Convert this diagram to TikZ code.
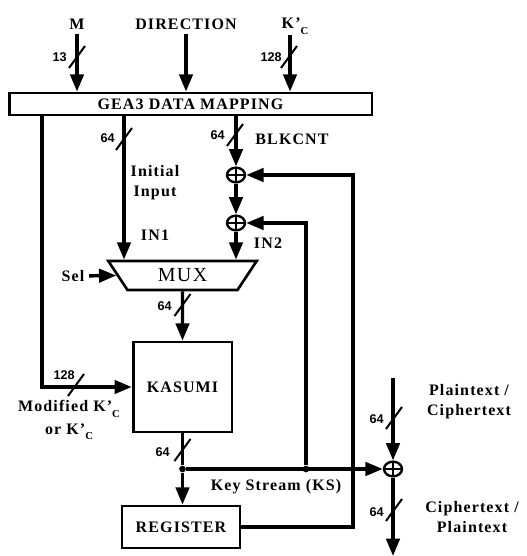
\documentclass[tikz,border=0pt]{standalone}
\usepackage{fontspec}
\setmainfont{Liberation Serif}[LetterSpace=7]
\newfontfamily\numfont{Liberation Sans}
\usetikzlibrary{shapes.geometric,arrows.meta,calc}

\newcommand{\Kc}{K’\raisebox{-0.35em}{\fontsize{8}{8}\selectfont C}}
\newcommand{\busmark}[4]{\draw[busline] ($#2+(-8,11)$) -- ($#2+(8,-11)$); \node[buslbl] (#1) at #3 {#4};}

\begin{document}
\begin{tikzpicture}[x=0.75pt,y=-0.75pt,font=\fontsize{12}{15}\selectfont\bfseries,
  box/.style={draw,line width=2pt,inner sep=0pt},
  muxbox/.style={draw,line width=2pt,trapezium,shape border rotate=180,trapezium angle=57,trapezium stretches=true,
    minimum width=111.75pt,minimum height=21.75pt,inner sep=0pt,font=\fontsize{15}{16}\selectfont\mdseries},
  arr/.style={-{Triangle[length=13pt,width=10pt]},line width=2.6pt},
  wire/.style={line width=2.6pt},
  busline/.style={line width=1.5pt},
  buslbl/.style={font=\numfont\fontsize{9.5}{10}\selectfont\bfseries,inner sep=0pt,anchor=east},
  xorn/.style={draw,ellipse,line width=1.8pt,minimum width=13.5pt,minimum height=11pt,inner sep=0pt,
    path picture={\draw[line width=1.8pt] (path picture bounding box.north) -- (path picture bounding box.south)
      (path picture bounding box.west) -- (path picture bounding box.east);}},
  junc/.style={circle,fill,inner sep=0pt,minimum size=5pt}]
\useasboundingbox (0,0) rectangle (526,556);

% inputs and mapping
\node (m) at (77,24) {M};
\node (dir) at (186,24) {DIRECTION};
\node (kc) at (295,26) {\Kc};
\coordinate (kin) at (290,35);
\node[box,minimum width=272pt,minimum height=16.5pt] (map) at (190.5,104) {GEA3 DATA MAPPING};

% blocks
\node[muxbox] (mux) at (182.5,275.5) {MUX};
\node[xorn] (x1) at (236,175) {};
\node[xorn] (x2) at (236,223) {};
\node[xorn] (x3) at (393,469) {};
\node[box,minimum width=74pt,minimum height=67.5pt] (kas) at (182.5,387) {KASUMI};
\node[box,minimum width=88.5pt,minimum height=31.5pt] (reg) at (181,527) {REGISTER};
\node[junc] (kd) at (182.5,469) {};
\node[junc] (kd2) at (306,469) {};

% labels
\node[align=center] (init) at (155,183) {Initial\\Input};
\node (in1) at (155,235) {IN1};
\node (blk) at (292,139) {BLKCNT};
\node (in2) at (268,243) {IN2};
\node (sel) at (73,276) {Sel};
\node[align=center] (mod) at (69,420) {Modified \Kc\\[2pt]or \Kc};
\node (ks) at (276,487) {Key Stream (KS)};
\node[align=center] (pt) at (469,402) {Plaintext /\\Ciphertext};
\node[align=center] (ct) at (472,517) {Ciphertext /\\Plaintext};

\coordinate (cL) at (42,0);
\coordinate (cI) at (124,0);
\coordinate (fb1) at (353,175);
\coordinate (ptin) at (393,378);
\coordinate (ctout) at (393,556);

% wires
\draw[arr] (m.south) -- (map.north -| m);
\draw[arr] (dir.south) -- (map.north -| dir);
\draw[arr] (kin) -- (map.north -| kin);
\draw[arr] (map.south -| cL) |- (kas.west);
\draw[arr] (map.south -| cI) -- (mux.north -| cI);
\draw[arr] (map.south -| x1) -- (x1.north);
\draw[arr] (x1) -- (x2);
\draw[arr] (x2) -- (mux.north -| x2);
\draw[arr] (sel) -- (mux.west);
\draw[arr] (mux.south) -- (kas.north);
\draw[wire] (kas.south) -- (kd);
\draw[arr] (kd) -- (kas.south |- reg.north);
\draw[arr] (kd) -- (x3);
\draw[arr] (reg.east) -| (fb1) -- (x1);
\draw[arr] (kd2) |- (x2);
\draw[arr] (ptin) -- (x3);
\draw[arr] (x3) -- (ctout);

% bus widths
\busmark{b1}{(77,57)}{(67,57)}{13}
\busmark{b2}{(289,57)}{(282,57)}{128}
\busmark{b3}{(124,139)}{(115,138)}{64}
\busmark{b4}{(235,135)}{(225,135)}{64}
\busmark{b5}{(182.5,305)}{(172,306)}{64}
\busmark{b6}{(76,385)}{(75,375)}{128}
\busmark{b7}{(182.5,450)}{(170,452)}{64}
\busmark{b8}{(394,418)}{(384,419)}{64}
\busmark{b9}{(394,510)}{(384,512)}{64}
\end{tikzpicture}
\end{document}
